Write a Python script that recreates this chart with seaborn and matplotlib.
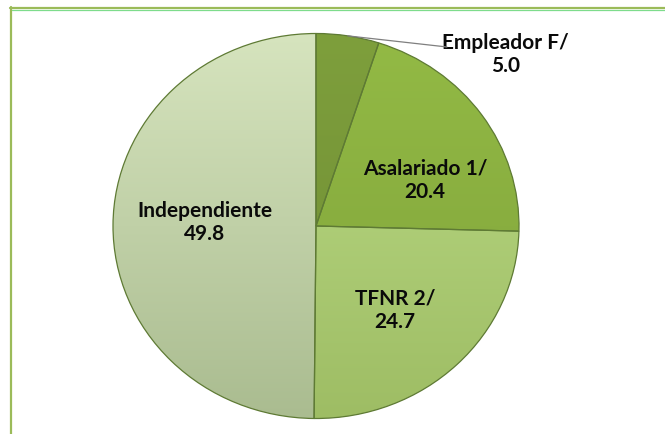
import numpy as np
import matplotlib
matplotlib.use("Agg")
import matplotlib.pyplot as plt
from matplotlib.colors import LinearSegmentedColormap
from matplotlib.lines import Line2D
import seaborn as sns

# ---- data ----
categories = ["Empleador F/", "Asalariado 1/", "TFNR 2/", "Independiente"]
values = [5.0, 20.4, 24.7, 49.8]
value_labels = ["5.0", "20.4", "24.7", "49.8"]

sns.set_theme(style="white")
plt.rcParams["font.family"] = ["Lato", "DejaVu Sans"]

W, H = 665, 434
fig = plt.figure(figsize=(W / 100, H / 100), dpi=100)
fig.patch.set_facecolor("white")

# pie geometry in pixels (ellipse)
cx, cy = 316, 226
rx, ry = 203, 192.5
ax = fig.add_axes([(cx - rx) / W, (H - cy - ry) / H, 2 * rx / W, 2 * ry / H])

base_colors = ["#789838", "#8BB03F", "#B2D27C", "#C7D8AA"]
top_colors = ["#7E9F3C", "#93BA45", "#BCDC88", "#D6E4BE"]
bot_colors = ["#6F8C34", "#7FA23A", "#9EBD64", "#AABC90"]

wedges, _ = ax.pie(values, colors=base_colors, startangle=90, counterclock=False,
                   wedgeprops=dict(edgecolor="#5E7A34", linewidth=0.9))
ax.set_aspect("auto")
ax.set_xlim(-1, 1)
ax.set_ylim(-1, 1)

grad = np.linspace(0, 1, 256).reshape(-1, 1)
for w, tc, bc in zip(wedges, top_colors, bot_colors):
    cmap = LinearSegmentedColormap.from_list("g", [bc, tc])
    im = ax.imshow(grad, extent=(-1, 1, -1, 1), origin="lower", aspect="auto",
                   cmap=cmap, zorder=w.get_zorder() - 0.5, interpolation="bilinear")
    im.set_clip_path(w)
    w.set_facecolor("none")
ax.set_xlim(-1, 1)
ax.set_ylim(-1, 1)
ax.axis("off")

# ---- labels ----
txt_kw = dict(ha="center", va="center", fontsize=15, fontweight="bold",
              color="#0A0A0A", linespacing=1.2)
pos = {
    "Independiente": (-0.547, 0.02),
    "Asalariado 1/": (0.537, 0.239),
    "TFNR 2/": (0.389, -0.436),
}
for cat, val in zip(categories, value_labels):
    if cat == "Empleador F/":
        continue
    x, y = pos[cat]
    ax.text(x, y, f"{cat}\n{val}", **txt_kw)

# Empleador label with leader line
ang = np.deg2rad(90 - values[0] / sum(values) * 360 / 2)
ax.plot([np.cos(ang), 0.645], [np.sin(ang), 0.93], color="#7F7F7F", lw=0.9,
        clip_on=False, zorder=5)
ax.text(0.935, 0.89, f"{categories[0]}\n{value_labels[0]}", clip_on=False, **txt_kw)

# ---- frame lines (top and left visible) ----
fig.add_artist(Line2D([10 / W, 1], [1 - 8 / H, 1 - 8 / H], color="#9BBB59", lw=1.6))
fig.add_artist(Line2D([12 / W, 1], [1 - 9.5 / H, 1 - 9.5 / H], color="#7EDC8C", lw=0.9))
fig.add_artist(Line2D([11 / W, 11 / W], [0, 1 - 7 / H], color="#9BBB59", lw=1.6))

fig.savefig("out.png", dpi=100, facecolor="white")
